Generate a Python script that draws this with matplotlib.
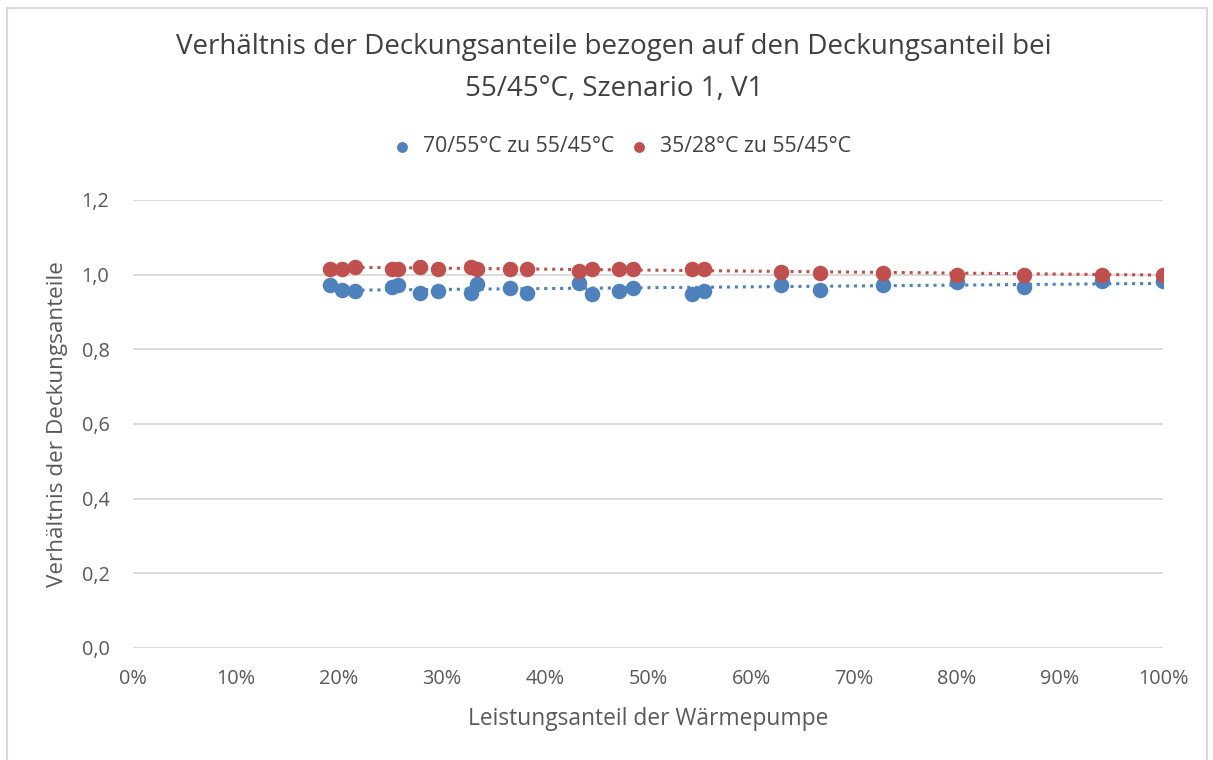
import numpy as np
import matplotlib
matplotlib.use("Agg")
import matplotlib.pyplot as plt
from matplotlib.patches import Rectangle
from matplotlib.ticker import FuncFormatter

# Leistungsanteil der Wärmepumpe (fraction)
x_vals = [0.191, 0.203, 0.216, 0.251, 0.257, 0.279, 0.296, 0.328, 0.334, 0.366,
          0.383, 0.433, 0.446, 0.472, 0.485, 0.543, 0.554, 0.629, 0.667, 0.728,
          0.800, 0.865, 0.941, 1.000]
# 70/55°C zu 55/45°C
ratio_70_55 = [0.971, 0.960, 0.957, 0.968, 0.971, 0.952, 0.957, 0.952, 0.976, 0.963,
               0.952, 0.979, 0.949, 0.957, 0.965, 0.947, 0.957, 0.972, 0.960, 0.973,
               0.981, 0.968, 0.984, 0.984]
# 35/28°C zu 55/45°C
ratio_35_28 = [1.016, 1.016, 1.021, 1.016, 1.016, 1.021, 1.016, 1.021, 1.016, 1.016,
               1.016, 1.011, 1.016, 1.016, 1.016, 1.016, 1.016, 1.008, 1.005, 1.005,
               1.000, 1.000, 1.000, 1.000]

series_labels = ["70/55°C zu 55/45°C", "35/28°C zu 55/45°C"]
title_text = "Verhältnis der Deckungsanteile bezogen auf den Deckungsanteil bei\n55/45°C, Szenario 1, V1"
x_label = "Leistungsanteil der Wärmepumpe"
y_label = "Verhältnis der Deckungsanteile"

blue = "#4F81BD"
red = "#C0504D"
font = ["Open Sans", "DejaVu Sans"]
plt.rcParams["font.family"] = font

W, H = 1213, 760
fig = plt.figure(figsize=(W / 100, H / 100), dpi=100)
fig.add_artist(Rectangle((7 / W, -0.01), (1207 - 7) / W, 1 - 8 / H + 0.01,
                         transform=fig.transFigure, fill=False,
                         edgecolor="#D9D9D9", linewidth=1.5))

ax = fig.add_axes([133 / W, 1 - 648 / H, (1163 - 133) / W, (648 - 200) / H])
ax.set_xlim(0, 1)
ax.set_ylim(0, 1.2)
ax.set_yticks(np.arange(0, 1.21, 0.2))
ax.set_xticks(np.arange(0, 1.01, 0.1))
ax.yaxis.grid(True, color="#D9D9D9", linewidth=1.3)
ax.set_axisbelow(True)
for s in ax.spines.values():
    s.set_visible(False)
ax.tick_params(length=0, labelsize=14.3, labelcolor="#595959")
ax.tick_params(axis="y", pad=17)
ax.tick_params(axis="x", pad=15)
ax.yaxis.set_major_formatter(FuncFormatter(lambda v, p: f"{v:.1f}".replace(".", ",")))
ax.xaxis.set_major_formatter(FuncFormatter(lambda v, p: f"{v * 100:.0f}%"))

xs = np.array(x_vals)
for ys, col, lab in [(ratio_70_55, blue, series_labels[0]), (ratio_35_28, red, series_labels[1])]:
    ys = np.array(ys)
    ax.scatter(xs, ys, s=125, color=col, label=lab, zorder=3, linewidths=0)
    k, d = np.polyfit(xs, ys, 1)
    xt = np.array([xs.min(), xs.max()])
    ax.plot(xt, k * xt + d, linestyle=(0, (1, 1.6)), color=col, linewidth=2.2, zorder=2)

ax.set_xlabel(x_label, fontsize=16.4, color="#595959", labelpad=13)
ax.set_ylabel(y_label, fontsize=16.2, color="#595959", labelpad=10)

fig.text(614 / W, 1 - 68 / H, title_text, ha="center", va="center",
         fontsize=20, color="#404040", linespacing=1.65)

leg = ax.legend(loc="center", bbox_to_anchor=(616 / W, 1 - 147 / H),
                bbox_transform=fig.transFigure, ncol=2, frameon=False,
                fontsize=15.2, handletextpad=0.0, columnspacing=0.2,
                markerscale=0.7, scatterpoints=1)
for t in leg.get_texts():
    t.set_color("#404040")

fig.savefig("out.png", dpi=100, facecolor="white")
